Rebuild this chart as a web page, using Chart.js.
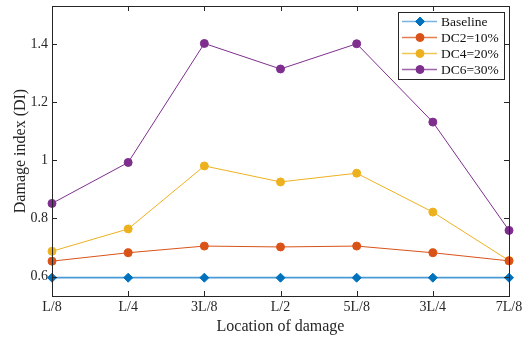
<!DOCTYPE html>
<html>
<head>
<meta charset="utf-8">
<script src="https://cdn.jsdelivr.net/npm/chart.js@4.4.1/dist/chart.umd.min.js"></script>
<style>
  html, body { margin: 0; padding: 0; background: #fff; }
  #wrap { width: 523px; height: 338px; position: relative; }
</style>
</head>
<body>
<div id="wrap"><canvas id="c" width="523" height="338"></canvas></div>
<script>
// Damage locations along the beam
const locations = ['L/8', 'L/4', '3L/8', 'L/2', '5L/8', '3L/4', '7L/8'];

// Damage index (DI) per damage case
const baseline = [0.596, 0.596, 0.596, 0.596, 0.596, 0.596, 0.596];
const dc2 = [0.653, 0.682, 0.705, 0.702, 0.705, 0.682, 0.654];
const dc4 = [0.687, 0.764, 0.981, 0.926, 0.956, 0.822, 0.655];
const dc6 = [0.852, 0.993, 1.403, 1.315, 1.402, 1.132, 0.759];

const seriesNames = ['Baseline', 'DC2=10%', 'DC4=20%', 'DC6=30%'];
const yTicks = [0.6, 0.8, 1, 1.2, 1.4];
const yTickLabels = ['0.6', '0.8', '1', '1.2', '1.4'];
const yMin = 0.533, yMax = 1.532;

const AXIS = '#262626';
const FONT = "'Liberation Serif', 'Times New Roman', serif";

// Axes box with inward tick marks on all four sides
const boxPlugin = {
  id: 'axesBox',
  afterDatasetsDraw(chart) {
    const { ctx, chartArea: a, scales } = chart;
    const len = 5;
    ctx.save();
    ctx.strokeStyle = AXIS;
    ctx.lineWidth = 1;
    ctx.beginPath();
    scales.y.ticks.forEach(t => {
      const y = Math.round(scales.y.getPixelForValue(t.value)) + 0.5;
      ctx.moveTo(a.left, y); ctx.lineTo(a.left + len, y);
      ctx.moveTo(a.right, y); ctx.lineTo(a.right - len, y);
    });
    scales.x.ticks.forEach((t, i) => {
      const x = Math.round(scales.x.getPixelForTick(i)) + 0.5;
      ctx.moveTo(x, a.bottom); ctx.lineTo(x, a.bottom - len);
      ctx.moveTo(x, a.top); ctx.lineTo(x, a.top + len);
    });
    ctx.stroke();
    ctx.strokeRect(Math.round(a.left) + 0.5, Math.round(a.top) + 0.5,
                   Math.round(a.right - a.left), Math.round(a.bottom - a.top));
    ctx.restore();
  }
};

// Boxed legend in the upper right corner of the plot
const legendPlugin = {
  id: 'boxLegend',
  afterDraw(chart) {
    const { ctx } = chart;
    const x0 = 398.5, y0 = 12.5, w = 106, h = 67;
    ctx.save();
    ctx.fillStyle = '#fff';
    ctx.fillRect(x0, y0, w, h);
    ctx.strokeStyle = AXIS;
    ctx.lineWidth = 1;
    ctx.strokeRect(x0, y0, w, h);
    ctx.font = '13.5px ' + FONT;
    ctx.textBaseline = 'middle';
    ctx.textAlign = 'left';
    chart.data.datasets.forEach((ds, i) => {
      const y = 21.5 + i * 16;
      ctx.globalAlpha = 0.75;
      ctx.strokeStyle = ds.borderColor;
      ctx.lineWidth = 1.6;
      ctx.beginPath();
      ctx.moveTo(402, y); ctx.lineTo(437, y);
      ctx.stroke();
      ctx.globalAlpha = 1;
      ctx.fillStyle = ds.pointBackgroundColor;
      ctx.strokeStyle = ds.pointBorderColor;
      ctx.lineWidth = 1;
      Chart.helpers.drawPoint(ctx, {
        pointStyle: ds.pointStyle, radius: ds.pointRadius, rotation: 0, borderWidth: 1
      }, 420, y);
      ctx.fillStyle = '#111';
      ctx.fillText(ds.label, 441, y + 0.5);
    });
    ctx.restore();
  }
};

function series(label, data, line, marker, style, radius, width) {
  return {
    label, data,
    borderColor: line, borderWidth: width,
    pointStyle: style, pointRadius: radius, pointHoverRadius: radius,
    pointBackgroundColor: marker, pointBorderColor: marker, pointBorderWidth: 1,
    tension: 0, fill: false
  };
}

new Chart(document.getElementById('c'), {
  type: 'line',
  data: {
    labels: locations,
    datasets: [
      series(seriesNames[0], baseline, '#4a9ad8', '#0072BD', 'rectRot', 4.5, 1.8),
      series(seriesNames[1], dc2, '#D95319', '#D95319', 'circle', 4, 1),
      series(seriesNames[2], dc4, '#EDB120', '#EDB120', 'circle', 4, 1),
      series(seriesNames[3], dc6, '#7E2F8E', '#7E2F8E', 'circle', 4, 1)
    ]
  },
  options: {
    responsive: false,
    animation: false,
    devicePixelRatio: 1,
    layout: { padding: { left: 0, right: 14, top: 6, bottom: 0 } },
    plugins: { legend: { display: false }, tooltip: { enabled: false } },
    scales: {
      x: {
        type: 'category',
        offset: false,
        grid: { display: false, drawTicks: false },
        border: { display: false },
        ticks: { color: '#262626', padding: 3, font: { family: FONT, size: 14 }, maxRotation: 0, autoSkip: false },
        title: { display: true, text: 'Location of damage', color: '#262626',
                 font: { family: FONT, size: 16 }, padding: { top: 0, bottom: 2 } },
        afterFit(s) { s.height = 42; s.paddingLeft = 0; s.paddingRight = 0; }
      },
      y: {
        min: yMin, max: yMax,
        grid: { display: false, drawTicks: false },
        border: { display: false },
        ticks: {
          color: '#262626', padding: 4, font: { family: FONT, size: 14 },
          callback: (v) => {
            const i = yTicks.findIndex(t => Math.abs(t - v) < 1e-9);
            return i >= 0 ? yTickLabels[i] : '';
          }
        },
        afterBuildTicks(s) { s.ticks = yTicks.map(v => ({ value: v })); },
        title: { display: true, text: 'Damage index (DI)', color: '#262626',
                 font: { family: FONT, size: 16 }, padding: { top: 11, bottom: 0 } },
        afterFit(s) { s.width = 52; s.paddingTop = 0; s.paddingBottom = 0; }
      }
    }
  },
  plugins: [boxPlugin, legendPlugin]
});
</script>
</body>
</html>
